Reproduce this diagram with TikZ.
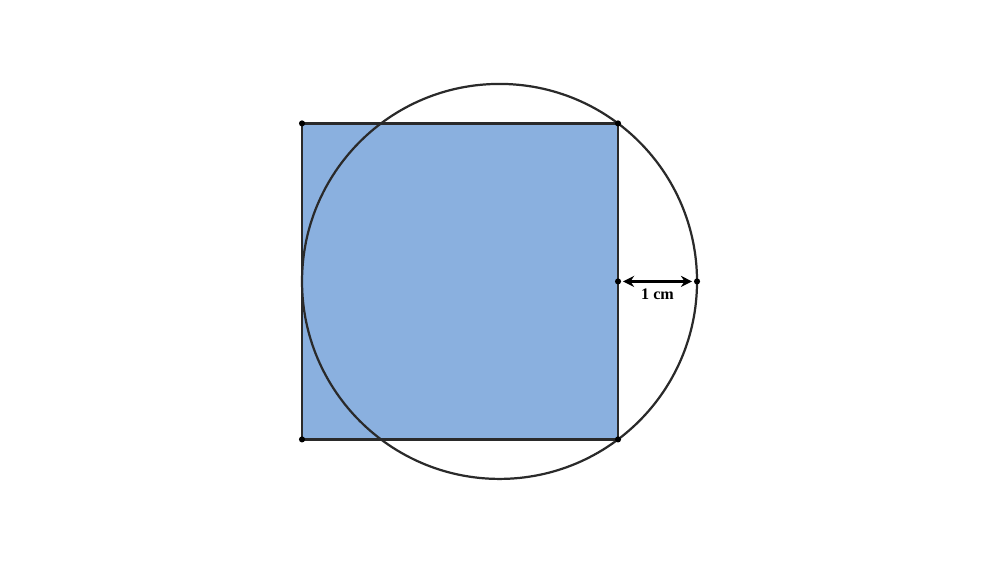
\documentclass[tikz,border=0pt]{standalone}
\usepackage{fontspec}
\setmainfont{Liberation Serif}
\usepackage{tikz}
\usetikzlibrary{arrows.meta}

\definecolor{squarefill}{HTML}{8AB0DF}
\definecolor{linegray}{HTML}{2A2A2A}

\begin{document}
\begin{tikzpicture}[line width=0.8pt,
	dot/.style={circle,fill=black,inner sep=0pt,minimum size=2.2pt}]
	\useasboundingbox (-3.823,-1.565) rectangle (8.835,5.562);
	
	\fill[squarefill] (0,0) rectangle (4,4);
	\draw[linegray] (0,0) rectangle (4,4);
	\draw[linegray] (2.5,2) circle (2.5);
	
	\node[dot] (A) at (0,0) {};
	\node[dot] (B) at (4,0) {};
	\node[dot] (C) at (4,4) {};
	\node[dot] (D) at (0,4) {};
	\node[dot] (M) at (4,2) {};
	\node[dot] (E) at (5,2) {};
	
	%	\foreach \i in {1,2,3}{
	%		\draw[dotted] (0,\i) -- (4,\i);
	%	}
	\draw[black,{Stealth[length=4pt,width=4pt]}-{Stealth[length=4pt,width=4pt]},shorten <=0.3pt,shorten >=0.3pt] (M) -- node[below=-1pt,font=\fontsize{5.8}{7}\selectfont\bfseries] (L) {1 cm} (E);
	
\end{tikzpicture}
\end{document}
